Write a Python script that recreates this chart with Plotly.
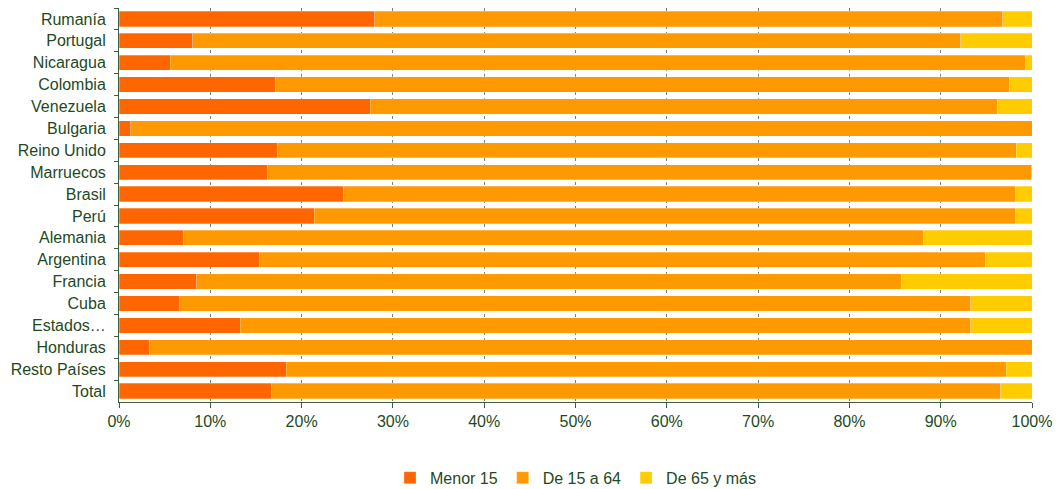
import plotly.graph_objects as go

paises = ["Rumanía", "Portugal", "Nicaragua", "Colombia", "Venezuela", "Bulgaria",
          "Reino Unido", "Marruecos", "Brasil", "Perú", "Alemania", "Argentina",
          "Francia", "Cuba", "Estados…", "Honduras", "Resto Países", "Total"]

menor_15 = [28.0, 8.1, 5.6, 17.1, 27.5, 1.3, 17.4, 16.3, 24.6, 21.4, 7.1, 15.4,
            8.5, 6.6, 13.3, 3.3, 18.3, 16.7]
de_15_a_64 = [68.8, 84.1, 93.7, 80.4, 68.7, 98.7, 80.9, 83.6, 73.6, 76.8, 81.0, 79.5,
              77.2, 86.7, 80.0, 96.7, 78.9, 79.9]
de_65_y_mas = [3.2, 7.8, 0.7, 2.5, 3.8, 0.0, 1.7, 0.1, 1.8, 1.8, 11.9, 5.1,
               14.3, 6.7, 6.7, 0.0, 2.8, 3.4]

series = [
    ("Menor 15", menor_15, "#FF6600"),
    ("De 15 a 64", de_15_a_64, "#FF9900"),
    ("De 65 y más", de_65_y_mas, "#FFCC00"),
]

texto = "#1E4A1E"
fuente = "Liberation Sans, Arial, sans-serif"

fig = go.Figure()
for nombre, valores, color in series:
    fig.add_trace(go.Bar(
        y=paises, x=valores, name=nombre, orientation="h",
        marker=dict(color=color, line=dict(color="rgba(255,255,255,0.45)", width=0.6)),
    ))

fig.update_layout(
    barmode="stack",
    barnorm="percent",
    bargap=0.3,
    width=1056, height=489,
    margin=dict(l=119, r=24, t=8, b=87, autoexpand=False),
    paper_bgcolor="white", plot_bgcolor="white",
    font=dict(family=fuente, size=16, color=texto),
    showlegend=True,
    legend=dict(orientation="h", x=0.5, xanchor="center", xref="paper",
                y=0.023, yanchor="middle", yref="container",
                font=dict(size=16, color=texto), itemwidth=30,
                tracegroupgap=0, traceorder="normal"),
)

fig.update_xaxes(
    range=[0, 100], tickvals=list(range(0, 101, 10)),
    ticktext=[f"{v}%" for v in range(0, 101, 10)],
    showgrid=True, gridcolor="#6E8B6E", griddash="dot", gridwidth=1,
    showline=True, linecolor="#3C5E3C", linewidth=1,
    ticks="outside", ticklen=5, tickcolor="#3C5E3C",
    zeroline=False, tickfont=dict(size=16, color=texto), automargin=False,
)
fig.update_yaxes(
    autorange="reversed", type="category",
    showline=True, linecolor="#3C5E3C", linewidth=1,
    ticks="outside", ticklen=4, tickcolor="#3C5E3C", tickson="boundaries",
    ticklabelstandoff=9,
    showgrid=False, tickfont=dict(size=16, color=texto), automargin=False,
)

fig.write_html("out.html")
